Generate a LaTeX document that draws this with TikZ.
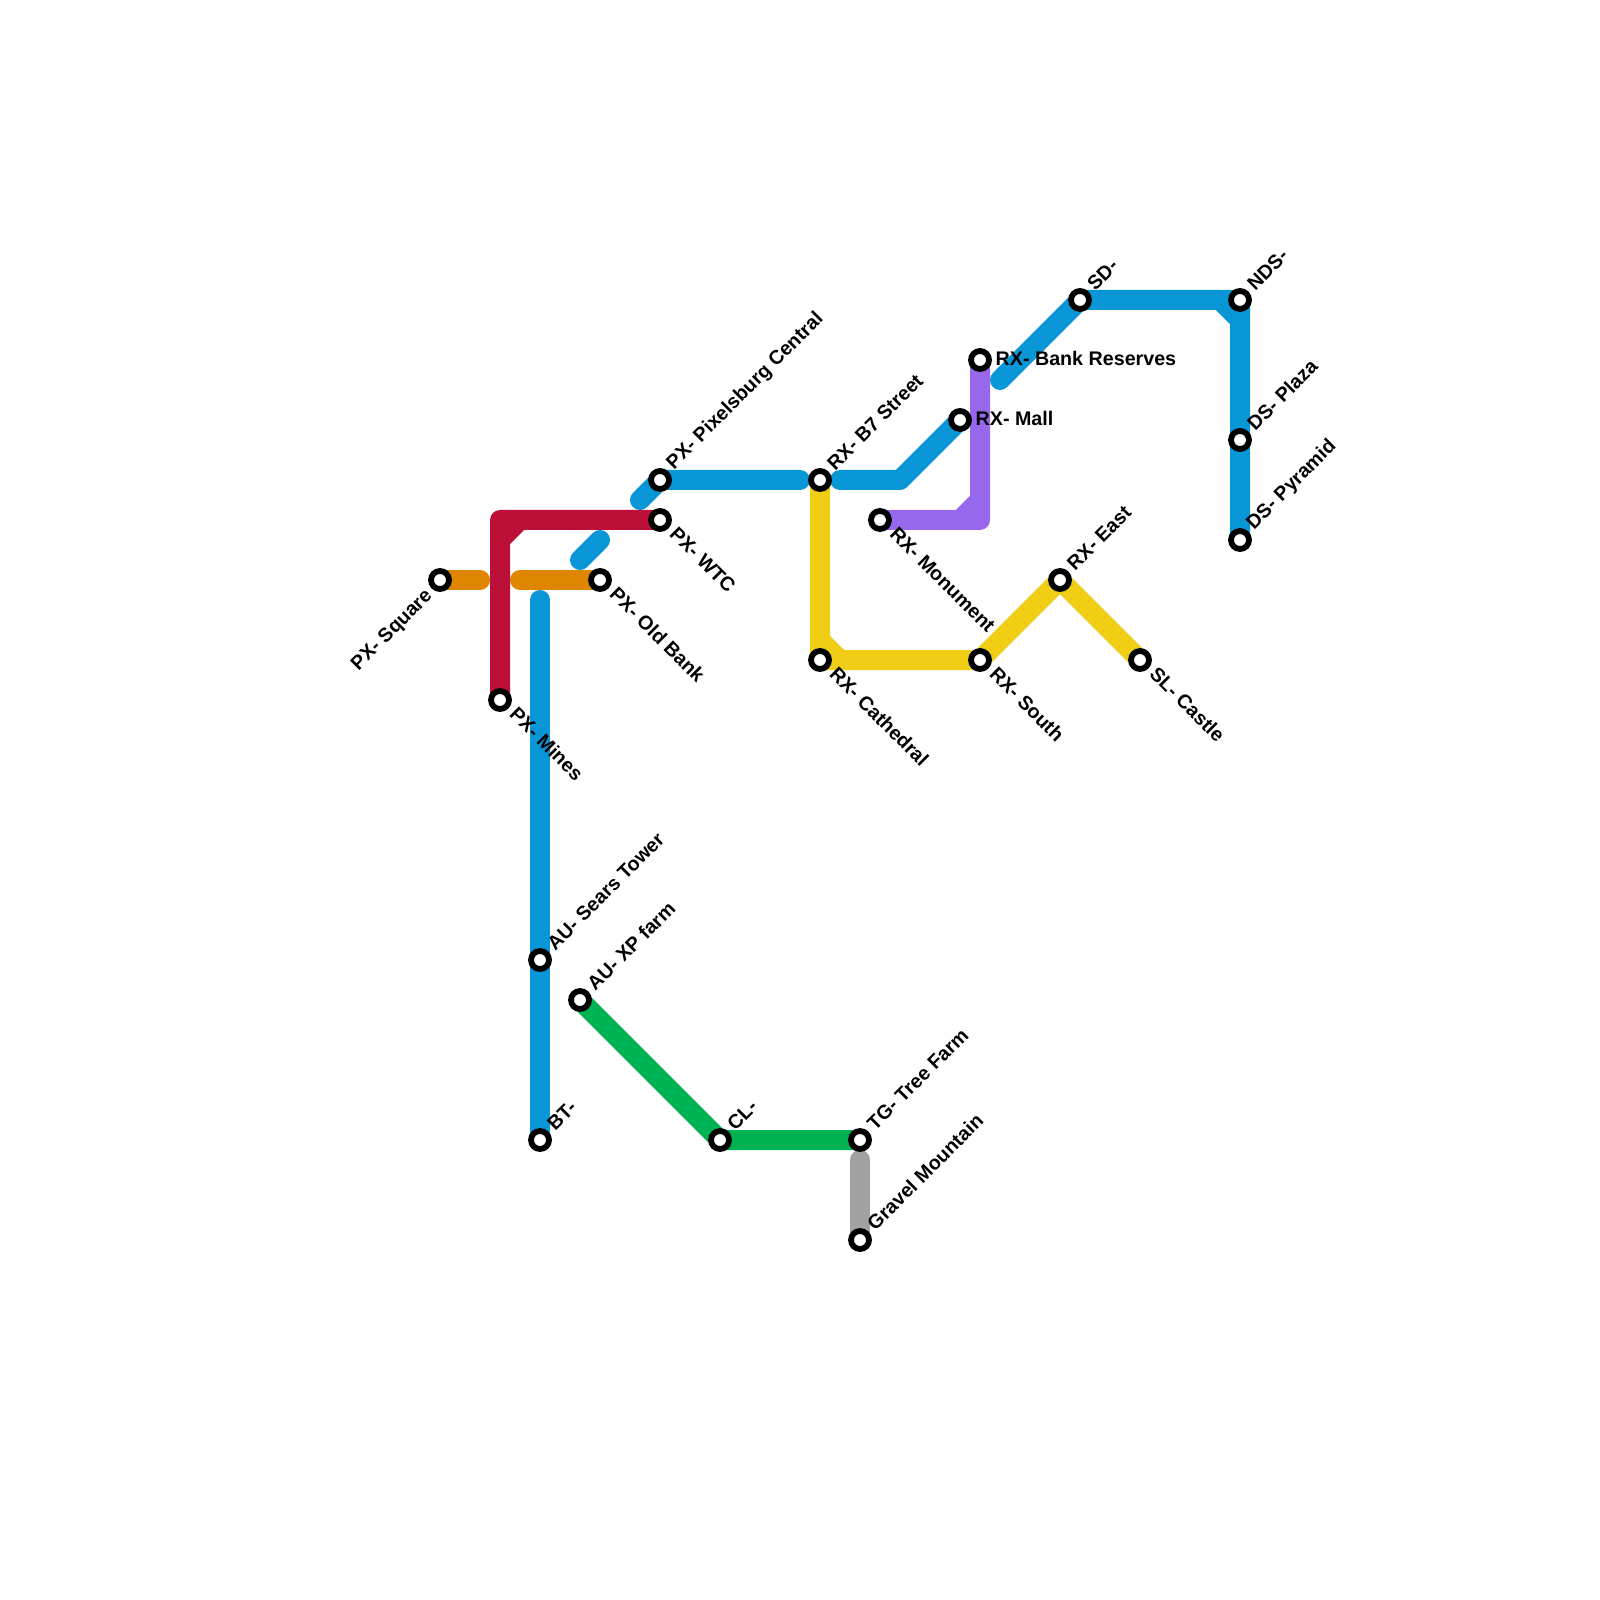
\documentclass[tikz,border=0pt]{standalone}
\usepackage{fontspec}
\setmainfont{Liberation Sans}
\usetikzlibrary{backgrounds}
\definecolor{mblue}{HTML}{0896D7}
\definecolor{mred}{HTML}{BD1038}
\definecolor{morange}{HTML}{DF8600}
\definecolor{myellow}{HTML}{F0CE15}
\definecolor{mpurple}{HTML}{9768EC}
\definecolor{mgreen}{HTML}{00B251}
\definecolor{mgray}{HTML}{A2A2A2}

\begin{document}
\begin{tikzpicture}[y=-1cm,
  stn/.style={draw=black,line width=0.058cm,fill=white,circle,inner sep=0pt,minimum size=0.18cm},
  lbl/.style={font=\fontsize{5.6}{6.5}\selectfont\bfseries,inner sep=0pt},
  lblup/.style={lbl,rotate=45,anchor=west},
  lbldn/.style={lbl,rotate=-45,anchor=west},
  lblleft/.style={lbl,rotate=45,anchor=east},
  lblflat/.style={lbl,anchor=west},
  metro/.style={line width=0.2cm,line cap=round,line join=round}
]
\useasboundingbox (0,0) rectangle (16,16);

\node[stn] (square) at (4.4,5.8) {};
\node[stn] (oldbank) at (6.0,5.8) {};
\node[stn] (mines) at (5.0,7.0) {};
\node[stn] (wtc) at (6.6,5.2) {};
\node[stn] (central) at (6.6,4.8) {};
\node[stn] (sears) at (5.4,9.6) {};
\node[stn] (bt) at (5.4,11.4) {};
\node[stn] (xpfarm) at (5.8,10.0) {};
\node[stn] (cl) at (7.2,11.4) {};
\node[stn] (treefarm) at (8.6,11.4) {};
\node[stn] (gravel) at (8.6,12.4) {};
\node[stn] (b7) at (8.2,4.8) {};
\node[stn] (cathedral) at (8.2,6.6) {};
\node[stn] (south) at (9.8,6.6) {};
\node[stn] (east) at (10.6,5.8) {};
\node[stn] (castle) at (11.4,6.6) {};
\node[stn] (monument) at (8.8,5.2) {};
\node[stn] (mall) at (9.6,4.2) {};
\node[stn] (reserves) at (9.8,3.6) {};
\node[stn] (sd) at (10.8,3.0) {};
\node[stn] (nds) at (12.4,3.0) {};
\node[stn] (plaza) at (12.4,4.4) {};
\node[stn] (pyramid) at (12.4,5.4) {};

\node[lblleft] (lsquare) at (4.30,5.93) {PX- Square};
\node[lbldn] (loldbank) at (6.13,5.90) {PX- Old Bank};
\node[lbldn] (lmines) at (5.13,7.10) {PX- Mines};
\node[lbldn] (lwtc) at (6.73,5.30) {PX- WTC};
\node[lblup] (lcentral) at (6.70,4.67) {PX- Pixelsburg Central};
\node[lblup] (lsears) at (5.50,9.47) {AU- Sears Tower};
\node[lblup] (lbt) at (5.50,11.27) {BT-};
\node[lblup] (lxpfarm) at (5.90,9.87) {AU- XP farm};
\node[lblup] (lcl) at (7.30,11.27) {CL-};
\node[lblup] (ltreefarm) at (8.70,11.27) {TG- Tree Farm};
\node[lblup] (lgravel) at (8.70,12.27) {Gravel Mountain};
\node[lblup] (lb7) at (8.30,4.67) {RX- B7 Street};
\node[lbldn] (lcathedral) at (8.33,6.70) {RX- Cathedral};
\node[lbldn] (lsouth) at (9.93,6.70) {RX- South};
\node[lblup] (least) at (10.70,5.67) {RX- East};
\node[lbldn] (lcastle) at (11.53,6.70) {SL- Castle};
\node[lbldn] (lmonument) at (8.93,5.30) {RX- Monument};
\node[lblflat] (lmall) at (9.75,4.18) {RX- Mall};
\node[lblflat] (lreserves) at (9.95,3.58) {RX- Bank Reserves};
\node[lblup] (lsd) at (10.90,2.87) {SD-};
\node[lblup] (lnds) at (12.50,2.87) {NDS-};
\node[lblup] (lplaza) at (12.50,4.27) {DS- Plaza};
\node[lblup] (lpyramid) at (12.50,5.27) {DS- Pyramid};

% free ends and bends
\coordinate (orangea) at (4.8,5.8);
\coordinate (orangeb) at (5.2,5.8);
\coordinate (redbend) at (5.0,5.4);
\coordinate (redcorner) at (5.0,5.2);
\coordinate (redtop) at (5.2,5.2);
\coordinate (stuba) at (5.8,5.6);
\coordinate (stubb) at (6.0,5.4);
\coordinate (bluetop) at (5.4,6.0);
\coordinate (stubc) at (6.4,5.0);
\coordinate (blueend) at (8.0,4.8);
\coordinate (bluestart) at (8.4,4.8);
\coordinate (bluebend) at (9.0,4.8);
\coordinate (yelbend) at (8.2,6.4);
\coordinate (yeltop) at (8.4,6.6);
\coordinate (purtop) at (9.8,5.0);
\coordinate (purcorner) at (9.8,5.2);
\coordinate (purleft) at (9.6,5.2);
\coordinate (upperstart) at (10.0,3.8);
\coordinate (upperbend) at (12.2,3.0);
\coordinate (uppertop) at (12.4,3.2);
\coordinate (graytop) at (8.6,11.6);

\begin{scope}[on background layer]
\draw[metro,mblue] (bluetop)--(bt.center);
\draw[metro,mblue] (stuba)--(stubb);
\draw[metro,mblue] (stubc)--(central.center)--(blueend);
\draw[metro,mblue] (bluestart)--(bluebend)--(mall.center);
\draw[metro,mblue] (upperstart)--(sd.center)--(nds.center)--(pyramid.center) (upperbend)--(uppertop);
\draw[metro,morange] (square.center)--(orangea);
\draw[metro,morange] (orangeb)--(oldbank.center);
\draw[metro,mred] (mines.center)--(redcorner)--(wtc.center) (redbend)--(redtop);
\draw[metro,myellow] (b7.center)--(cathedral.center)--(south.center)--(east.center)--(castle.center) (yelbend)--(yeltop);
\draw[metro,mpurple] (monument.center)--(purcorner)--(reserves.center) (purleft)--(purtop);
\draw[metro,mgreen] (xpfarm.center)--(cl.center)--(treefarm.center);
\draw[metro,mgray] (graytop)--(gravel.center);
\end{scope}
\end{tikzpicture}
\end{document}
